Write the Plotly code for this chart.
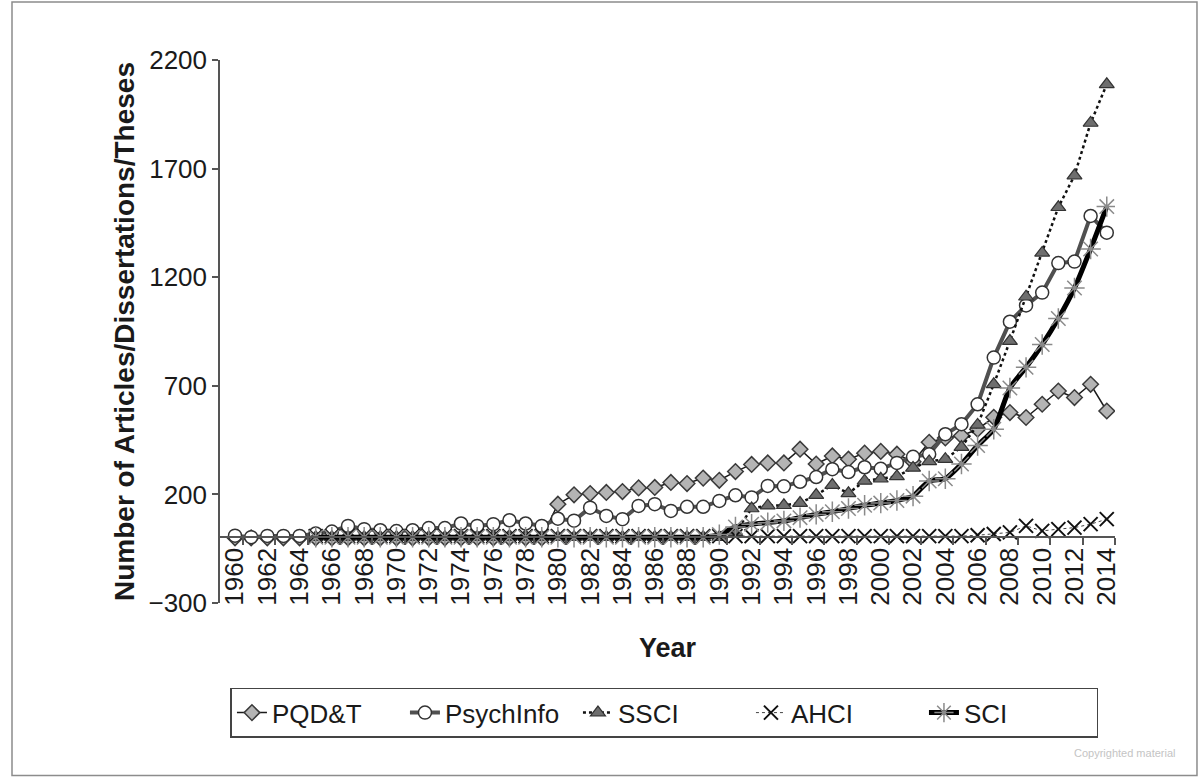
import plotly.graph_objects as go

years = list(range(1960, 2015))
tick_years = list(range(1960, 2015, 2))
tick_labels = [str(y) for y in tick_years]
y_ticks = [-300, 200, 700, 1200, 1700, 2200]

pqdt = [0]*20 + [155, 198, 204, 209, 213, 230, 232, 255, 250, 275,
                 265, 305, 338, 345, 345, 408, 340, 377, 362, 390,
                 398, 385, 350, 440, 460, 470, 500, 555, 577, 554,
                 615, 676, 646, 707, 584]

psychinfo = [10, 3, 9, 9, 9, 20, 29, 55, 40, 35,
             31, 35, 45, 45, 66, 55, 63, 81, 66, 55,
             88, 79, 139, 101, 86, 147, 155, 124, 143, 143,
             170, 196, 186, 239, 237, 258, 280, 316, 303, 325,
             318, 345, 373, 385, 477, 523, 615, 830, 995, 1070,
             1129, 1265, 1272, 1482, 1405]

ssci = [None]*5 + [3]*26 + [25, 135, 148, 150, 160, 197, 243, 205, 262,
                            272, 283, 322, 352, 362, 418, 520, 707, 906, 1110,
                            1312, 1522, 1668, 1910, 2088]

ahci = [None]*5 + [8]*41 + [12, 18, 25, 55, 32, 40, 47, 63, 86]

sci = [None]*5 + [3]*25 + [15, 50, 63, 70, 78, 93, 108, 120, 135, 150,
                           160, 172, 192, 262, 272, 340, 425, 500, 690, 785,
                           890, 1010, 1150, 1330, 1525]

FONT = "Liberation Sans, Arial, sans-serif"

fig = go.Figure()

fig.add_trace(go.Scatter(
    x=years, y=pqdt, name="PQD&T", mode="lines+markers",
    line=dict(color="#1a1a1a", width=1.5),
    marker=dict(symbol="diamond", size=12, color="#b4b4b4",
                line=dict(color="#3a3a3a", width=1.5))))

fig.add_trace(go.Scatter(
    x=years, y=psychinfo, name="PsychInfo", mode="lines+markers",
    line=dict(color="#505050", width=4),
    marker=dict(symbol="circle", size=13, color="white",
                line=dict(color="#333333", width=1.5))))

fig.add_trace(go.Scatter(
    x=years, y=ssci, name="SSCI", mode="lines+markers",
    line=dict(color="#111111", width=2.5, dash="dot"),
    marker=dict(symbol="triangle-up", size=13, color="#6e6e6e",
                line=dict(color="#333333", width=1.2))))

fig.add_trace(go.Scatter(
    x=years, y=ahci, name="AHCI", mode="lines+markers",
    line=dict(color="#444444", width=1, dash="dot"),
    marker=dict(symbol="x-thin-open", size=14, color="#111111",
                line=dict(color="#111111", width=2))))

fig.add_trace(go.Scatter(
    x=years, y=sci, name="SCI", mode="lines+markers",
    line=dict(color="#000000", width=5, shape="spline", smoothing=0.6),
    marker=dict(symbol="asterisk-open", size=17, color="#8a8a8a",
                line=dict(color="#8a8a8a", width=1.5))))

fig.add_shape(type="rect", xref="paper", yref="paper",
              x0=-0.2324, x1=1.0916, y0=-0.3179, y1=1.1068,
              line=dict(color="#8c8c8c", width=1.5), layer="below")

fig.add_annotation(text="Copyrighted material", xref="paper", yref="paper",
                   x=0.952, y=-0.2755, xanchor="left", yanchor="middle",
                   showarrow=False, font=dict(family=FONT, size=11, color="#c4c4c4"))

fig.update_layout(
    width=1199, height=778,
    margin=dict(l=220, r=84, t=60, b=175, autoexpand=False),
    paper_bgcolor="white", plot_bgcolor="white",
    font=dict(family=FONT, size=26, color="#1a1a1a"),
    showlegend=True,
    legend=dict(orientation="h", x=0.4966, xanchor="center", y=-0.156, yanchor="top",
                bordercolor="#444444", borderwidth=1.5, bgcolor="white",
                font=dict(family=FONT, size=26, color="#1a1a1a"),
                entrywidth=128, entrywidthmode="pixels"),
    xaxis=dict(
        range=[1959.07, 2014.51], tickmode="array", tickvals=tick_years,
        ticktext=tick_labels, tickangle=-90, ticks="", showgrid=False,
        zeroline=False, showline=True, linecolor="#555555", linewidth=1.5,
        anchor="free", position=0.122, automargin=False,
        tickfont=dict(family=FONT, size=26, color="#1a1a1a"),
        minor=dict(tick0=1960.5, dtick=2, ticks="outside", ticklen=7,
                   tickcolor="#555555", tickwidth=1.5, showgrid=False),
        title=dict(text="<b>Year</b>", standoff=32,
                   font=dict(family=FONT, size=27, color="#1a1a1a"))),
    yaxis=dict(
        range=[-300, 2200], tickmode="array", tickvals=y_ticks,
        ticks="outside", ticklen=6, tickcolor="#555555", tickwidth=1.5,
        showgrid=False, zeroline=False, showline=True, linecolor="#555555",
        linewidth=1.5, automargin=False,
        tickfont=dict(family=FONT, size=26, color="#1a1a1a"),
        title=dict(text="<b>Number of Articles/Dissertations/Theses</b>", standoff=6,
                   font=dict(family=FONT, size=28, color="#1a1a1a"))),
)

fig.write_html("out.html", config={"displayModeBar": False},
               post_script="document.body.style.margin='0';document.body.style.overflow='hidden';")
